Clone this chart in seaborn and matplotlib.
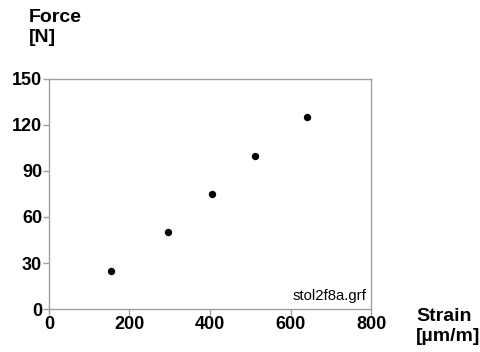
import matplotlib
matplotlib.use("Agg")
import matplotlib.pyplot as plt
import seaborn as sns
import pandas as pd

# data
strain = [155, 296, 405, 513, 641]
force = [25, 50, 75, 100, 125]
x_ticks = [0, 200, 400, 600, 800]
y_ticks = [0, 30, 60, 90, 120, 150]

df = pd.DataFrame({"strain": strain, "force": force})

sns.set_theme(style="white")
plt.rcParams['font.family'] = ['Liberation Sans', 'DejaVu Sans']
plt.rcParams['text.color'] = 'black'

fig = plt.figure(figsize=(4.8, 3.52), dpi=100)
ax = fig.add_axes([0.102, 0.122, 0.671, 0.654])

sns.scatterplot(data=df, x="strain", y="force", color="black", s=28,
                edgecolor="black", linewidth=0, ax=ax)

ax.set_xlim(0, 800)
ax.set_ylim(0, 150)
ax.set_xticks(x_ticks)
ax.set_yticks(y_ticks)
ax.set_xlabel("")
ax.set_ylabel("")

for sp in ax.spines.values():
    sp.set_color("#a0a0a0")
    sp.set_linewidth(1)
ax.tick_params(axis="both", direction="out", length=4, width=1, color="#a0a0a0",
               labelsize=13, labelcolor="black", pad=1, bottom=True, left=True)
for lab in ax.get_xticklabels() + ax.get_yticklabels():
    lab.set_fontweight("bold")

ax.text(0.985, 0.025, "stol2f8a.grf", transform=ax.transAxes, ha="right",
        va="bottom", fontsize=10.7, color="black")

fig.text(29 / 480, 1 - 9 / 352, "Force\n[N]", ha="left", va="top",
         fontsize=14, fontweight="bold", linespacing=1.2, color="black")
fig.text(416 / 480, 1 - 308 / 352, "Strain\n[µm/m]", ha="left", va="top",
         fontsize=14, fontweight="bold", linespacing=1.2, color="black")

fig.savefig("out.png", dpi=100)
